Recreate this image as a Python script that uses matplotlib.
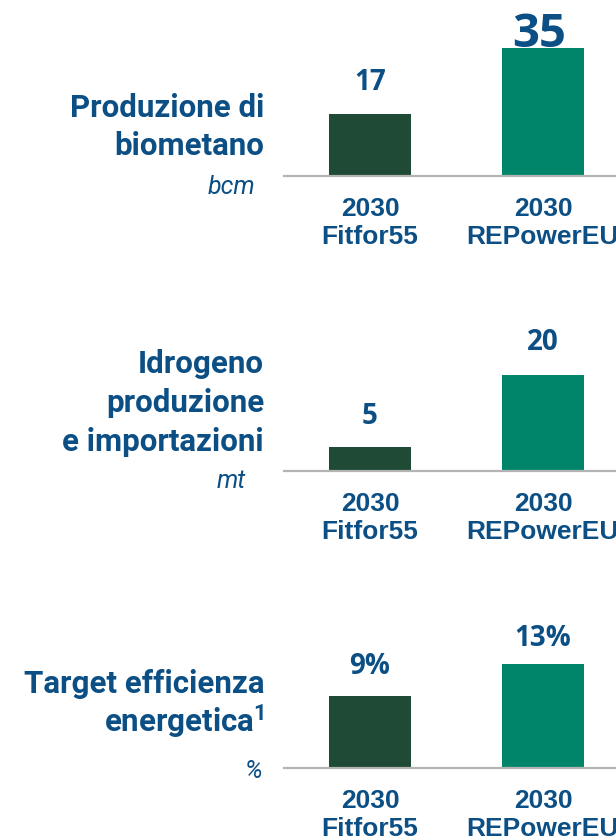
import matplotlib
matplotlib.use("Agg")
import matplotlib.pyplot as plt

plt.rcParams["mathtext.fontset"] = "custom"
plt.rcParams["mathtext.rm"] = "Roboto:bold"
plt.rcParams["mathtext.default"] = "rm"

# data
categories = ["2030\nFitfor55", "2030\nREPowerEU"]
biometano = [17, 35]
idrogeno = [5, 20]
efficienza = [9, 13]
biometano_labels = ["17", "35"]
idrogeno_labels = ["5", "20"]
efficienza_labels = ["9%", "13%"]

titles = [["Produzione di", "biometano"],
          ["Idrogeno", "produzione", "e importazioni"],
          ["Target efficienza", "energetica$^1$"]]
units = ["bcm", "mt", "%"]

navy = "#0b4f85"
dark_green = "#1f4a35"
teal = "#00856a"
grey = "#b4b4b4"

W, H = 616, 840
fig = plt.figure(figsize=(W / 100, H / 100), dpi=100)


def fx(px):
    return px / W


def fy(py):
    return 1 - py / H


# layout per panel: baseline px, px per unit, axes height px,
# title baselines, unit baseline/right edge, label offsets (px)
layout = [
    dict(base=176, ppu=3.66, h=176, tl=[117, 155], ub=194, ur=255, off=[31, 13]),
    dict(base=471, ppu=4.8, h=160, tl=[373, 412, 451], ub=488, ur=246, off=[30, 33]),
    dict(base=768, ppu=8.0, h=160, tl=[693, 732], ub=778, ur=262, off=[29, 25]),
]
values = [biometano, idrogeno, efficienza]
labels = [biometano_labels, idrogeno_labels, efficienza_labels]

for k in range(3):
    L = layout[k]
    ax = fig.add_axes([fx(284), fy(L["base"]), fx(616) - fx(284), L["h"] / H])
    ax.bar([0, 1], values[k], width=0.474, color=[dark_green, teal])
    ax.set_xlim(-0.497, 1.422)
    ax.set_ylim(0, L["h"] / L["ppu"])
    for s in ["top", "left", "right"]:
        ax.spines[s].set_visible(False)
    ax.spines["bottom"].set_color(grey)
    ax.spines["bottom"].set_linewidth(1.6)
    ax.set_yticks([])
    ax.set_xticks([0, 1])
    ax.set_xticklabels(categories, fontfamily="Liberation Sans", fontweight="bold",
                       fontsize=19, color=navy, linespacing=1.2)
    ax.tick_params(axis="x", length=0, pad=15)
    for i in range(2):
        if k == 0 and i == 1:
            fs = 34
        else:
            fs = 20
        ax.annotate(labels[k][i], (i, values[k][i]), xytext=(-3 if fs == 34 else 0, L["off"][i] * 0.72),
                    textcoords="offset points", ha="center", va="center",
                    fontfamily="Open Sans", fontweight="bold", fontsize=fs,
                    color=navy, annotation_clip=False, zorder=5)

    for line, yb in zip(titles[k], L["tl"]):
        fig.text(fx(264), fy(yb), line, ha="right", va="baseline",
                 fontfamily="Roboto", fontweight="bold", fontsize=22.5, color=navy)
    fig.text(fx(L["ur"]), fy(L["ub"]), units[k], ha="right", va="baseline",
             fontfamily="Roboto", fontstyle="italic", fontsize=18, color=navy)

fig.savefig("out.png", dpi=100)
